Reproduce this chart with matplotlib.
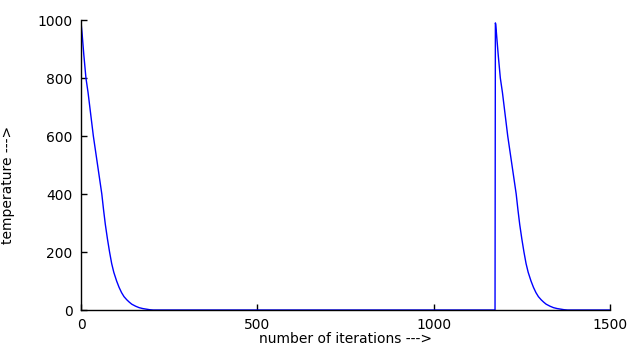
import matplotlib

matplotlib.use("Agg")
import matplotlib.pyplot as plt

# first cooling run
iter_first = [0, 1, 3, 8, 14, 20, 25, 30, 35, 41, 47, 53, 59, 64, 69, 75, 81, 87, 93, 101,
              108, 115, 122, 130, 137, 144, 155, 165, 175, 185, 195, 205]
temp_first = [1000, 980, 955, 880, 800, 750, 700, 650, 600, 550, 500, 450, 400, 345, 295, 245,
              200, 160, 130, 100, 78, 60, 46, 35, 27, 20, 13, 8, 5, 3, 1, 0]

# flat stretch, then the reheat at ~1174 and the second cooling run
iter_second = [1174, 1175, 1176, 1178, 1183, 1189, 1195, 1200, 1205, 1210, 1216, 1222, 1228,
               1234, 1239, 1244, 1250, 1256, 1262, 1268, 1276, 1283, 1290, 1297, 1305,
               1312, 1319, 1330, 1340, 1350, 1360, 1370, 1380, 1500]
temp_second = [0, 990, 985, 955, 880, 800, 750, 700, 650, 600, 550, 500, 450, 400, 345, 295,
               245, 200, 160, 130, 100, 78, 60, 46, 35, 27, 20, 13, 8, 5, 3, 1, 0, 0]

x_ticks = [0, 500, 1000, 1500]
y_ticks = [0, 200, 400, 600, 800, 1000]

plt.rcParams["font.family"] = ["DejaVu Sans"]

fig = plt.figure(figsize=(6.29, 3.48), dpi=100, facecolor="white")
ax = fig.add_axes([81 / 629, 38 / 348, 529 / 629, 290 / 348])

ax.plot(iter_first + iter_second, temp_first + temp_second, color="#0000ff", linewidth=1.0)

ax.set_xlim(0, 1500)
ax.set_ylim(0, 1000)
ax.set_xticks(x_ticks)
ax.set_yticks(y_ticks)
ax.tick_params(direction="in", length=4, width=1, labelsize=10, pad=6, colors="black")
for spine in ("top", "right"):
    ax.spines[spine].set_visible(False)
for spine in ("left", "bottom"):
    ax.spines[spine].set_linewidth(1.0)

ax.set_xlabel("number of iterations --->", fontsize=10, labelpad=0)
ax.set_ylabel("temperature --->", fontsize=10, labelpad=14)
ax.yaxis.set_label_coords(-0.125, 0.43)

fig.savefig("out.png", dpi=100, facecolor=fig.get_facecolor())
